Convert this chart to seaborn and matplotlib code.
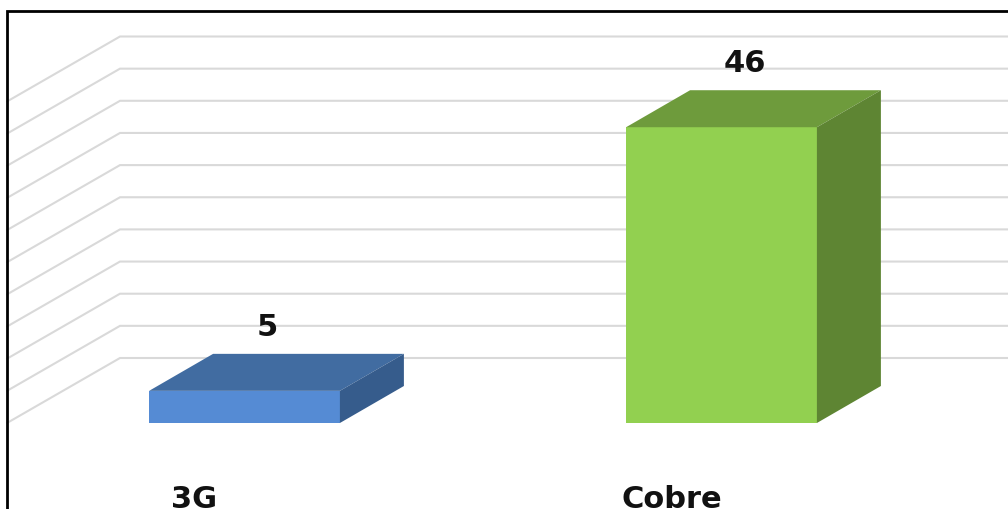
import matplotlib
matplotlib.use("Agg")
import matplotlib.pyplot as plt
from matplotlib.patches import Polygon, Rectangle
import seaborn as sns

# Data
categories = ["3G", "Cobre"]
values = [5, 46]
grid_values = list(range(0, 55, 5))

# Colours: front, top, side for each bar
front_colors = ["#558BD4", "#92D050"]
top_colors = ["#416CA1", "#6E9B3C"]
side_colors = ["#365C8C", "#5E8533"]
grid_color = "#D9D9D9"
text_color = "#111111"

sns.set_style("white")
plt.rcParams["font.family"] = ["DejaVu Sans"]

W, H, DPI = 1008, 510, 100
fig = plt.figure(figsize=(W / DPI, H / DPI), dpi=DPI)
ax = fig.add_axes([0, 0, 1, 1])

# Pixel geometry of the oblique projection
cat_step_px = 477.0      # horizontal distance between categories
first_cat_px = 244.5     # x pixel of first category centre
base_px = 86.0           # value 0 on the front plane, from bottom
unit_px = 6.43           # pixels per unit value
bar_depth = (64.0, 37.0)   # depth vector of the bars
wall_depth = (113.0, 65.0) # depth vector of the back wall
wall_front_px = 7.0        # x pixel of the left wall's front edge


def px_to_data(dx, dy):
    return dx / cat_step_px, dy / unit_px


# Front faces of the bars
sns.barplot(x=categories, y=values, hue=categories, palette=front_colors,
            legend=False, width=0.4, saturation=1, ax=ax, zorder=3)

ax.set_xlim(-first_cat_px / cat_step_px, (W - first_cat_px) / cat_step_px)
ax.set_ylim(-base_px / unit_px, (H - base_px) / unit_px)

# Back wall and left wall gridlines
wdx, wdy = px_to_data(*wall_depth)
left_front = ax.get_xlim()[0] + wall_front_px / cat_step_px
right_edge = ax.get_xlim()[1]
for g in grid_values:
    xb, yb = left_front + wdx, g + wdy
    ax.plot([left_front, xb, right_edge], [g, yb, yb], color=grid_color,
            lw=1.5, zorder=0, solid_joinstyle="miter", clip_on=True)

# Top and side faces of the bars
bdx, bdy = px_to_data(*bar_depth)
for i, patch in enumerate(ax.patches[:len(values)]):
    x0 = patch.get_x()
    x1 = x0 + patch.get_width()
    y0 = patch.get_y()
    y1 = y0 + patch.get_height()
    patch.set_edgecolor("none")
    top = Polygon([(x0, y1), (x1, y1), (x1 + bdx, y1 + bdy), (x0 + bdx, y1 + bdy)],
                  closed=True, fc=top_colors[i], ec="none", zorder=3)
    side = Polygon([(x1, y0), (x1, y1), (x1 + bdx, y1 + bdy), (x1 + bdx, y0 + bdy)],
                   closed=True, fc=side_colors[i], ec="none", zorder=3)
    ax.add_patch(top)
    ax.add_patch(side)

# Value labels above the bars
for i, v in enumerate(values):
    ax.annotate(str(v), xy=(i, v), xytext=(23, 56), textcoords="offset pixels",
                ha="center", va="baseline", fontsize=22, fontweight="bold",
                color=text_color, zorder=5)

# Category labels under the floor
for i, c in enumerate(categories):
    ax.annotate(c, xy=(i, 0), xytext=(-50, -84), textcoords="offset pixels",
                ha="center", va="baseline", fontsize=22, fontweight="bold",
                color=text_color, zorder=5, annotation_clip=False)

ax.axis("off")

# Chart border
fig.add_artist(Rectangle((7 / W, -0.2), 2.0, (H - 12) / H + 0.2,
                         transform=fig.transFigure, fill=False,
                         ec="black", lw=2, zorder=10))

fig.savefig("out.png", dpi=DPI)
